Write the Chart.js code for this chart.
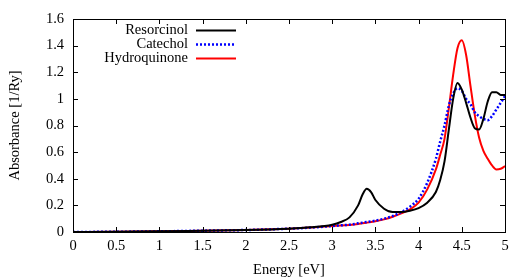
<!DOCTYPE html>
<html>
<head>
<meta charset="utf-8">
<script src="https://cdn.jsdelivr.net/npm/chart.js@4.4.0/dist/chart.umd.min.js"></script>
<style>
  html, body { margin: 0; padding: 0; background: #fff; }
  #wrap { width: 531px; height: 279px; }
</style>
</head>
<body>
<div id="wrap"><canvas id="absChart" width="531" height="279"></canvas></div>
<script>
// energy grid (eV)
const energy = [0, 0.5, 1, 1.5, 2, 2.5, 2.75, 3, 3.1, 3.2, 3.3, 3.35, 3.4, 3.45, 3.5, 3.6, 3.7, 3.8, 3.9, 4.0,
  4.1, 4.2, 4.25, 4.3, 4.35, 4.4, 4.45, 4.5, 4.55, 4.6, 4.65, 4.7, 4.75, 4.8, 4.85, 4.9, 4.95, 5.0];

const resorcinol = [0, 0.002, 0.005, 0.01, 0.015, 0.025, 0.035, 0.055, 0.075, 0.11, 0.2, 0.28, 0.325, 0.3, 0.24, 0.175, 0.15, 0.15, 0.16, 0.18,
  0.22, 0.3, 0.39, 0.53, 0.77, 1.0, 1.12, 1.07, 0.97, 0.86, 0.78, 0.77, 0.85, 0.98, 1.05, 1.05, 1.03, 1.03];

const catechol = [0, 0.002, 0.005, 0.01, 0.015, 0.025, 0.033, 0.045, 0.05, 0.055, 0.065, 0.07, 0.075, 0.08, 0.085, 0.1, 0.12, 0.15, 0.19, 0.25,
  0.37, 0.55, 0.68, 0.8, 0.95, 1.04, 1.08, 1.06, 1.0, 0.96, 0.9, 0.87, 0.85, 0.84, 0.87, 0.92, 0.97, 1.02];

const hydroquinone = [0, 0.002, 0.005, 0.01, 0.015, 0.025, 0.033, 0.045, 0.048, 0.053, 0.06, 0.065, 0.07, 0.075, 0.08, 0.095, 0.115, 0.14, 0.17, 0.22,
  0.32, 0.47, 0.58, 0.7, 0.93, 1.18, 1.38, 1.44, 1.33, 1.1, 0.88, 0.71, 0.61, 0.55, 0.5, 0.47, 0.475, 0.495];

const xTicks = [0, 0.5, 1, 1.5, 2, 2.5, 3, 3.5, 4, 4.5, 5];
const yTicks = [0, 0.2, 0.4, 0.6, 0.8, 1, 1.2, 1.4, 1.6];

const serif = '"Liberation Serif", "Times New Roman", serif';
const fontSize = 14.5;

function points(ys) {
  return energy.map((e, i) => ({ x: e, y: ys[i] }));
}

// gnuplot-like frame with inward ticks on all four sides
const framePlugin = {
  id: 'frame',
  afterDatasetsDraw(chart) {
    const { ctx, chartArea: a, scales } = chart;
    ctx.save();
    ctx.strokeStyle = '#000';
    ctx.lineWidth = 1;
    ctx.beginPath();
    const tl = 5;
    xTicks.forEach(v => {
      const px = Math.round(scales.x.getPixelForValue(v)) + 0.5;
      ctx.moveTo(px, a.bottom); ctx.lineTo(px, a.bottom - tl);
      ctx.moveTo(px, a.top); ctx.lineTo(px, a.top + tl);
    });
    yTicks.forEach(v => {
      const py = Math.round(scales.y.getPixelForValue(v)) + 0.5;
      ctx.moveTo(a.left, py); ctx.lineTo(a.left + tl, py);
      ctx.moveTo(a.right, py); ctx.lineTo(a.right - tl, py);
    });
    ctx.stroke();
    ctx.strokeRect(Math.round(a.left) + 0.5, Math.round(a.top) + 0.5,
      Math.round(a.right - a.left), Math.round(a.bottom - a.top));
    ctx.restore();
  },
  afterDraw(chart) {
    // legend: right-aligned label followed by a line sample
    const { ctx } = chart;
    ctx.save();
    ctx.font = fontSize + 'px ' + serif;
    ctx.textAlign = 'right';
    ctx.textBaseline = 'middle';
    chart.data.datasets.forEach((ds, i) => {
      const y = 30.5 + i * 14;
      ctx.fillStyle = '#000';
      ctx.fillText(ds.label, 188, y);
      ctx.strokeStyle = ds.borderColor;
      ctx.lineWidth = ds.borderWidth;
      ctx.setLineDash(ds.borderDash || []);
      ctx.beginPath();
      ctx.moveTo(196, y);
      ctx.lineTo(236, y);
      ctx.stroke();
    });
    ctx.restore();
  }
};

new Chart(document.getElementById('absChart').getContext('2d'), {
  type: 'line',
  data: {
    datasets: [
      { label: 'Resorcinol', data: points(resorcinol), borderColor: '#000000', borderWidth: 2 },
      { label: 'Catechol', data: points(catechol), borderColor: '#0000ff', borderWidth: 2.5, borderDash: [2, 2] },
      { label: 'Hydroquinone', data: points(hydroquinone), borderColor: '#ff0000', borderWidth: 2 }
    ]
  },
  options: {
    responsive: false,
    animation: false,
    layout: { padding: { left: 0, right: 26, top: 19, bottom: 0 } },
    elements: {
      point: { radius: 0 },
      line: { cubicInterpolationMode: 'monotone', fill: false }
    },
    plugins: { legend: { display: false }, tooltip: { enabled: false } },
    scales: {
      x: {
        type: 'linear', min: 0, max: 5,
        afterBuildTicks: s => { s.ticks = xTicks.map(v => ({ value: v })); },
        afterFit: s => { s.height = 47; },
        grid: { display: false, drawTicks: false },
        border: { display: false },
        ticks: { color: '#000', font: { family: serif, size: fontSize }, padding: 5, maxRotation: 0, callback: v => String(v) },
        title: { display: true, text: 'Energy [eV]', color: '#000', font: { family: serif, size: fontSize }, padding: { top: 1, bottom: 0 } }
      },
      y: {
        type: 'linear', min: 0, max: 1.6,
        afterBuildTicks: s => { s.ticks = yTicks.map(v => ({ value: v })); },
        afterFit: s => { s.width = 73; },
        grid: { display: false, drawTicks: false },
        border: { display: false },
        ticks: { color: '#000', font: { family: serif, size: fontSize }, padding: 9, callback: v => String(v) },
        title: { display: true, text: 'Absorbance [1/Ry]', color: '#000', font: { family: serif, size: fontSize }, padding: { top: 6, bottom: 0 } }
      }
    }
  },
  plugins: [framePlugin]
});
</script>
</body>
</html>
